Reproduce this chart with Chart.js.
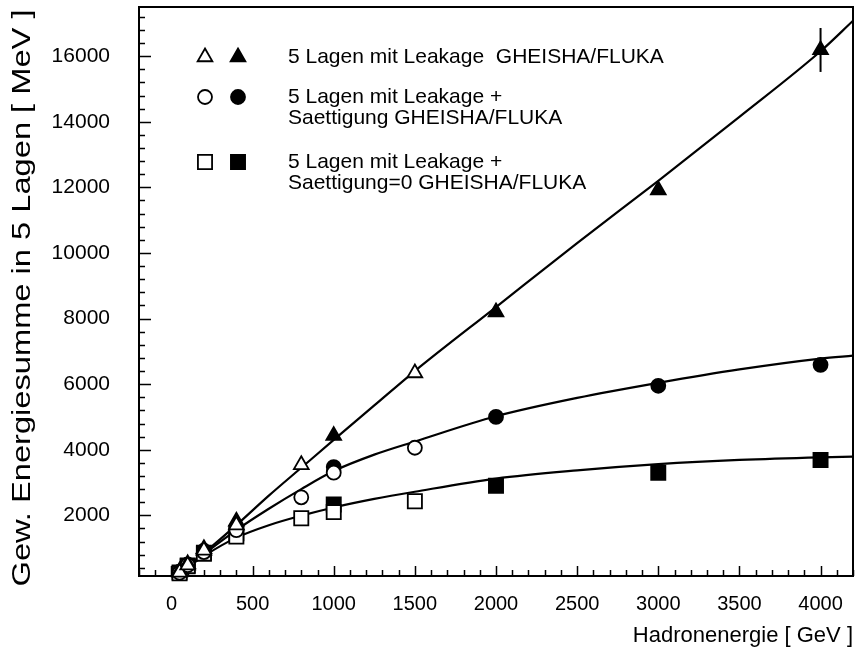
<!DOCTYPE html>
<html>
<head>
<meta charset="utf-8">
<script src="https://cdn.jsdelivr.net/npm/chart.js@4/dist/chart.umd.min.js"></script>
<style>
  html, body { margin: 0; padding: 0; background: #fff; }
  #wrap { width: 858px; height: 651px; }
</style>
</head>
<body>
<div id="wrap"><canvas id="c" width="858" height="651"></canvas></div>
<script>
// Hadron energy [GeV] and weighted energy sum in 5 layers [MeV]
// open symbols: GHEISHA, filled symbols: FLUKA
const triOpenE  = [50, 100, 200, 400, 800, 1500];
const triOpenS  = [260, 480, 930, 1700, 3540, 6340];
const triFullE  = [50, 100, 200, 400, 1000, 2000, 3000, 4000];
const triFullS  = [300, 520, 980, 1820, 4430, 8200, 11920, 16190];

const circOpenE = [50, 100, 200, 400, 800, 1000, 1500];
const circOpenS = [250, 480, 880, 1550, 2550, 3300, 4060];
const circFullE = [50, 100, 200, 400, 1000, 2000, 3000, 4000];
const circFullS = [280, 500, 920, 1620, 3470, 5000, 5950, 6590];

const sqOpenE   = [50, 100, 200, 400, 800, 1000, 1500];
const sqOpenS   = [230, 450, 830, 1350, 1910, 2100, 2430];
const sqFullE   = [50, 100, 200, 400, 1000, 2000, 3000, 4000];
const sqFullS   = [260, 470, 860, 1450, 2330, 2900, 3300, 3690];

// vertical error bar of the 4000 GeV point
const errE = [4000, 4000];
const errS = [15520, 16860];

// fitted curves
const fitE    = [50, 200, 400, 600, 800, 1000, 1250, 1500, 2000, 2500, 3000, 3500, 4000, 4200];
const fitTri  = [250, 850, 1700, 2600, 3450, 4300, 5350, 6400, 8350, 10300, 12200, 14150, 16150, 17080];
const fitCirc = [250, 820, 1550, 2200, 2800, 3350, 3850, 4250, 5020, 5580, 6040, 6450, 6780, 6870];
const fitSq   = [240, 760, 1320, 1700, 1990, 2240, 2500, 2720, 3120, 3370, 3560, 3690, 3770, 3790];

// axes
const xTicks      = [0, 500, 1000, 1500, 2000, 2500, 3000, 3500, 4000];
const xTickLabels = ['0', '500', '1000', '1500', '2000', '2500', '3000', '3500', '4000'];
const yTicks      = [2000, 4000, 6000, 8000, 10000, 12000, 14000, 16000];
const yTickLabels = ['2000', '4000', '6000', '8000', '10000', '12000', '14000', '16000'];
const xMin = -200, xMax = 4200, xMinorStep = 100;
const yMin = 150, yMax = 17500, yMinorStep = 400;

const xTitle = 'Hadronenergie [ GeV ]';
const yTitle = 'Gew. Energiesumme in 5 Lagen [ MeV ]';

const legendRows = [
  { shape: 'triangle', lines: ['5 Lagen mit Leakage  GHEISHA/FLUKA'] },
  { shape: 'circle',   lines: ['5 Lagen mit Leakage +', 'Saettigung GHEISHA/FLUKA'] },
  { shape: 'rect',     lines: ['5 Lagen mit Leakage +', 'Saettigung=0 GHEISHA/FLUKA'] }
];

const FONT = '"Liberation Sans", Arial, sans-serif';
const pts = (xs, ys) => xs.map((x, i) => ({ x: x, y: ys[i] }));

const markerRadius = { triangle: 8.5, circle: 7, rect: 10 };

function markers(label, shape, xs, ys, filled) {
  return {
    label: label,
    data: pts(xs, ys),
    showLine: false,
    pointStyle: shape,
    pointRadius: markerRadius[shape],
    pointHoverRadius: markerRadius[shape],
    pointBackgroundColor: filled ? '#000' : '#fff',
    pointBorderColor: '#000',
    pointBorderWidth: 1.8,
    clip: false,
    order: 0
  };
}

function curve(label, ys) {
  return {
    label: label,
    data: pts(fitE, ys),
    showLine: true,
    borderColor: '#000',
    borderWidth: 2.2,
    pointRadius: 0,
    cubicInterpolationMode: 'monotone',
    order: 1
  };
}

// frame, inward tick marks, y title and legend block
const decorations = {
  id: 'decorations',
  beforeDatasetsDraw(chart) {
    const { ctx, chartArea: a, scales: { x, y } } = chart;
    ctx.save();
    ctx.strokeStyle = '#000';
    ctx.lineWidth = 2;
    ctx.strokeRect(a.left, a.top, a.right - a.left, a.bottom - a.top);
    ctx.lineWidth = 1.5;
    ctx.beginPath();
    for (let v = Math.ceil(xMin / xMinorStep) * xMinorStep; v <= xMax; v += xMinorStep) {
      const px = Math.round(x.getPixelForValue(v)) + 0.5;
      const len = (v % 500 === 0) ? 10 : 6;
      ctx.moveTo(px, a.bottom);
      ctx.lineTo(px, a.bottom - len);
    }
    for (let v = Math.ceil(yMin / yMinorStep) * yMinorStep; v <= yMax; v += yMinorStep) {
      const py = Math.round(y.getPixelForValue(v)) + 0.5;
      const len = (v % 2000 === 0) ? 12 : 6;
      ctx.moveTo(a.left, py);
      ctx.lineTo(a.left + len, py);
    }
    ctx.stroke();
    ctx.restore();
  },
  afterDraw(chart) {
    const { ctx } = chart;
    ctx.save();
    ctx.fillStyle = '#000';

    // y axis title, stretched along the axis
    ctx.save();
    ctx.translate(30, 298);
    ctx.rotate(-Math.PI / 2);
    ctx.font = '25px ' + FONT;
    const w = ctx.measureText(yTitle).width;
    ctx.scale(577 / w, 1);
    ctx.textAlign = 'center';
    ctx.textBaseline = 'alphabetic';
    ctx.fillText(yTitle, 0, 0);
    ctx.restore();

    // legend
    const rowY = [57, 97, 162];
    const lineGap = 21;
    ctx.font = '21px ' + FONT;
    ctx.textAlign = 'left';
    ctx.textBaseline = 'middle';
    legendRows.forEach((row, i) => {
      const yy = rowY[i];
      const r = markerRadius[row.shape];
      const opts = { pointStyle: row.shape, radius: r, rotation: 0, borderWidth: 1.8 };
      ctx.strokeStyle = '#000';
      ctx.lineWidth = 1.8;
      ctx.fillStyle = '#fff';
      Chart.helpers.drawPoint(ctx, opts, 205, yy);
      ctx.fillStyle = '#000';
      Chart.helpers.drawPoint(ctx, opts, 238, yy);
      row.lines.forEach((t, j) => ctx.fillText(t, 288, yy + j * lineGap));
    });
    ctx.restore();
  }
};

new Chart(document.getElementById('c'), {
  type: 'scatter',
  data: {
    datasets: [
      markers('GHEISHA Leakage', 'triangle', triOpenE, triOpenS, false),
      markers('FLUKA Leakage', 'triangle', triFullE, triFullS, true),
      markers('GHEISHA Saettigung', 'circle', circOpenE, circOpenS, false),
      markers('FLUKA Saettigung', 'circle', circFullE, circFullS, true),
      markers('GHEISHA Saettigung=0', 'rect', sqOpenE, sqOpenS, false),
      markers('FLUKA Saettigung=0', 'rect', sqFullE, sqFullS, true),
      {
        label: 'Fehler',
        data: pts(errE, errS),
        showLine: true,
        borderColor: '#000',
        borderWidth: 2,
        pointRadius: 0,
        clip: false,
        order: 0
      },
      curve('Fit Leakage', fitTri),
      curve('Fit Saettigung', fitCirc),
      curve('Fit Saettigung=0', fitSq)
    ]
  },
  options: {
    responsive: false,
    animation: false,
    events: [],
    layout: { autoPadding: false, padding: { left: 0, top: 7, right: 5, bottom: 0 } },
    plugins: {
      legend: { display: false },
      tooltip: { enabled: false },
      title: { display: false }
    },
    scales: {
      x: {
        type: 'linear',
        min: xMin,
        max: xMax,
        afterBuildTicks: s => { s.ticks = xTicks.map(v => ({ value: v })); },
        afterFit: s => { s.height = 75; s.paddingLeft = 0; s.paddingRight = 0; },
        grid: { drawOnChartArea: false, drawTicks: false },
        border: { display: true, color: '#000', width: 2 },
        ticks: {
          padding: 16,
          color: '#000',
          font: { family: FONT, size: 20 },
          maxRotation: 0,
          autoSkip: false,
          callback: (v, i) => xTickLabels[i]
        },
        title: {
          display: true,
          text: xTitle,
          align: 'end',
          color: '#000',
          font: { family: FONT, size: 22 },
          padding: { top: 0, bottom: 2 }
        }
      },
      y: {
        type: 'linear',
        min: yMin,
        max: yMax,
        afterBuildTicks: s => { s.ticks = yTicks.map(v => ({ value: v })); },
        afterFit: s => { s.width = 139; s.paddingTop = 0; s.paddingBottom = 0; },
        grid: { drawOnChartArea: false, drawTicks: false },
        border: { display: true, color: '#000', width: 2 },
        ticks: {
          padding: 29,
          color: '#000',
          font: { family: FONT, size: 21 },
          autoSkip: false,
          callback: (v, i) => yTickLabels[i]
        }
      }
    }
  },
  plugins: [decorations]
});
</script>
</body>
</html>
